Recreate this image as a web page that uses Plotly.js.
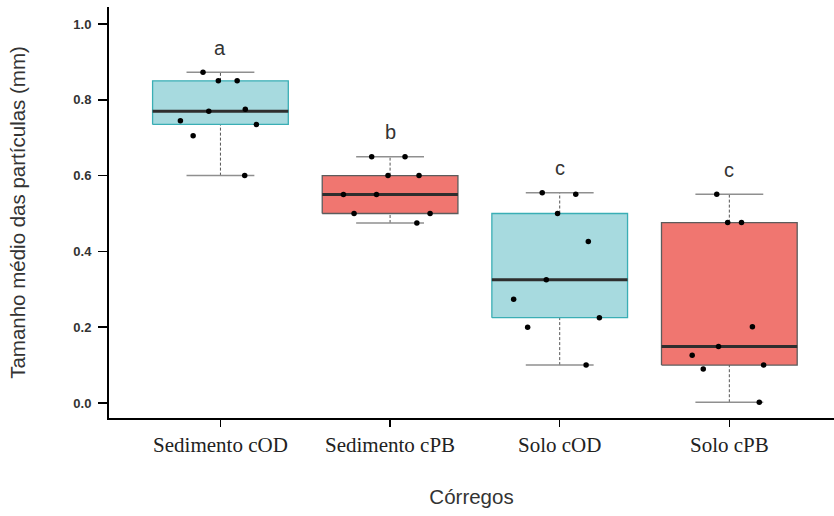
<!DOCTYPE html>
<html>
<head>
<meta charset="utf-8">
<script src="https://cdn.plot.ly/plotly-3.0.1.min.js"></script>
<style>
  html, body { margin: 0; padding: 0; background: #ffffff; }
  #chart { width: 834px; height: 516px; }
</style>
</head>
<body>
<div id="chart"></div>
<script>
// Mean particle size (mm) per stream and material
const categories = ['Sedimento cOD', 'Sedimento cPB', 'Solo cOD', 'Solo cPB'];
const sedimentoCOD = [0.873, 0.85, 0.85, 0.775, 0.77, 0.745, 0.735, 0.705, 0.60];
const sedimentoCPB = [0.65, 0.65, 0.60, 0.60, 0.55, 0.55, 0.50, 0.50, 0.475];
const soloCOD = [0.555, 0.551, 0.50, 0.426, 0.325, 0.274, 0.225, 0.20, 0.10];
const soloCPB = [0.551, 0.476, 0.476, 0.201, 0.149, 0.126, 0.10, 0.09, 0.002];
const groupLetters = ['a', 'b', 'c', 'c'];
const yTickVals = [0, 0.2, 0.4, 0.6, 0.8, 1.0];
const yTickText = ['0.0', '0.2', '0.4', '0.6', '0.8', '1.0'];

const groups = [sedimentoCOD, sedimentoCPB, soloCOD, soloCPB];

// styling
const fills = ['#a7dadf', '#f07670', '#a7dadf', '#f07670'];
const outlines = ['#3aaeb5', '#5c5c5c', '#3aaeb5', '#5c5c5c'];
const boxWidth = 0.8;
const capWidth = 0.4;
const sansFont = 'Liberation Sans, Arial, sans-serif';

// Tukey hinges (same as R's boxplot), whiskers to the most extreme points within 1.5 IQR
function boxStats(values) {
  const s = [...values].sort((a, b) => a - b);
  const n = s.length;
  const med = arr => {
    const m = arr.length;
    return m % 2 ? arr[(m - 1) / 2] : (arr[m / 2 - 1] + arr[m / 2]) / 2;
  };
  const half = Math.ceil(n / 2);
  const q1 = med(s.slice(0, half));
  const q3 = med(s.slice(n - half));
  const iqr = q3 - q1;
  const lo = Math.min(...s.filter(v => v >= q1 - 1.5 * iqr));
  const hi = Math.max(...s.filter(v => v <= q3 + 1.5 * iqr));
  return { q1, median: med(s), q3, lo, hi };
}

const traces = [];
const annotations = [];
const hw = boxWidth / 2;
const cw = capWidth / 2;

groups.forEach((vals, i) => {
  const st = boxStats(vals);

  // filled box body
  traces.push({
    type: 'box', x0: i, y: vals, width: boxWidth,
    quartilemethod: 'inclusive', boxpoints: false,
    fillcolor: fills[i], line: { width: 0, color: fills[i] },
    hoverinfo: 'skip', showlegend: false
  });

  // dashed whiskers
  traces.push({
    type: 'scatter', mode: 'lines',
    x: [i, i, null, i, i], y: [st.lo, st.q1, null, st.q3, st.hi],
    line: { color: '#555555', width: 1, dash: '3px,2px' },
    hoverinfo: 'skip', showlegend: false
  });

  // whisker end bars
  traces.push({
    type: 'scatter', mode: 'lines',
    x: [i - cw, i + cw, null, i - cw, i + cw], y: [st.lo, st.lo, null, st.hi, st.hi],
    line: { color: '#8f8f8f', width: 1.5 },
    hoverinfo: 'skip', showlegend: false
  });

  // box outline
  traces.push({
    type: 'scatter', mode: 'lines',
    x: [i - hw, i + hw, i + hw, i - hw, i - hw], y: [st.q1, st.q1, st.q3, st.q3, st.q1],
    line: { color: outlines[i], width: 1.3 },
    hoverinfo: 'skip', showlegend: false
  });

  // median
  traces.push({
    type: 'scatter', mode: 'lines',
    x: [i - hw, i + hw], y: [st.median, st.median],
    line: { color: '#2e2e2e', width: 3 },
    hoverinfo: 'skip', showlegend: false
  });

  // jittered observations, drawn on the overlay subplot so they sit on top
  traces.push({
    type: 'box', x0: i, y: vals, width: boxWidth,
    xaxis: 'x2', yaxis: 'y2',
    boxpoints: 'all', jitter: 0.85, pointpos: 0,
    fillcolor: 'rgba(0,0,0,0)', line: { width: 0, color: 'rgba(0,0,0,0)' },
    marker: { color: '#000000', size: 5.5 },
    hoverinfo: 'y', showlegend: false
  });

  // significance letter above the upper whisker
  annotations.push({
    x: i, y: st.hi + 0.065, xref: 'x', yref: 'y',
    text: groupLetters[i], showarrow: false,
    font: { family: sansFont, size: 20, color: '#333333' },
    xanchor: 'center', yanchor: 'middle'
  });
});

const xRange = [-0.657, 3.617];
const yRange = [-0.0396, 1.0449];

const layout = {
  width: 834, height: 516,
  margin: { l: 109, r: 0, t: 7, b: 98 },
  paper_bgcolor: '#ffffff', plot_bgcolor: '#ffffff',
  boxmode: 'overlay',
  showlegend: false,
  xaxis: {
    range: xRange, tickvals: [0, 1, 2, 3], ticktext: categories,
    showgrid: false, zeroline: false,
    showline: true, linecolor: '#000000', linewidth: 2,
    ticks: 'outside', ticklen: 7, tickwidth: 1.5, tickcolor: '#000000',
    tickfont: { family: 'Liberation Serif, Times New Roman, serif', size: 21, color: '#222222' },
    title: { text: 'Córregos', font: { family: sansFont, size: 20.5, color: '#333333' }, standoff: 33 }
  },
  yaxis: {
    range: yRange, tickvals: yTickVals, ticktext: yTickText,
    showgrid: false, zeroline: false,
    showline: true, linecolor: '#000000', linewidth: 2,
    ticks: 'outside', ticklen: 9, tickwidth: 1.5, tickcolor: '#000000',
    ticklabelstandoff: 4,
    tickfont: { family: sansFont, size: 13, color: '#333333', weight: 'bold' },
    title: { text: 'Tamanho médio das partículas (mm)', font: { family: sansFont, size: 20.5, color: '#333333' }, standoff: 42 }
  },
  xaxis2: { overlaying: 'x', range: xRange, visible: false },
  yaxis2: { overlaying: 'y', range: yRange, visible: false },
  annotations: annotations
};

Plotly.newPlot('chart', traces, layout, { displayModeBar: false, staticPlot: true });
</script>
</body>
</html>
